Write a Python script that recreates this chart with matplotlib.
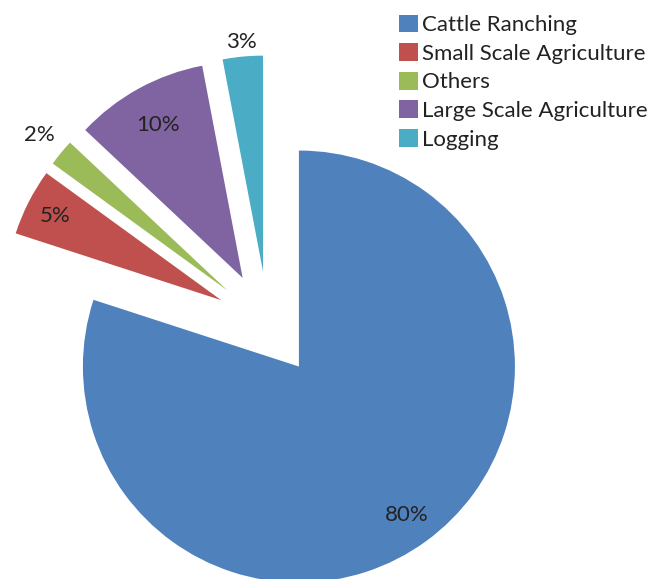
import matplotlib
matplotlib.use("Agg")
import matplotlib.pyplot as plt
import numpy as np

# data
labels = ["Cattle Ranching", "Small Scale Agriculture", "Others",
          "Large Scale Agriculture", "Logging"]
shares = [80, 5, 2, 10, 3]
colors = ["#4F81BD", "#C0504D", "#9BBB59", "#8064A2", "#4BACC6"]

plt.rcParams['font.family'] = ['Lato', 'DejaVu Sans']

W, H = 656, 579
fig = plt.figure(figsize=(W / 100, H / 100), dpi=100)
ax = fig.add_axes([0, 0, 1, 1])

# pie in pixel coords (y up); explode is in data units here
radius = 216
wedges, _ = ax.pie(shares, colors=colors, startangle=90, counterclock=False,
                   explode=[52.6] * 5, radius=radius, center=(268, H - 324),
                   wedgeprops=dict(linewidth=0))
ax.set_xlim(0, W)
ax.set_ylim(0, H)
ax.set_aspect('equal')
ax.axis('off')

# where each percent label sits, as fraction of radius from the slice tip
label_pos = [0.85, 0.86, 1.13, 0.81, 1.07]
for w, s, f in zip(wedges, shares, label_pos):
    mid = np.deg2rad((w.theta1 + w.theta2) / 2)
    cx, cy = w.center
    ax.text(cx + f * w.r * np.cos(mid), cy + f * w.r * np.sin(mid), f"{s}%",
            ha='center', va='center', fontsize=16, color='#222222')

leg = ax.legend(wedges, labels, loc='upper left',
                bbox_to_anchor=(381 / W, 1 + 3 / H), frameon=False,
                fontsize=16, handlelength=0.85, handleheight=0.85,
                handletextpad=0.2, labelspacing=0.36, borderpad=0.3)
for t in leg.get_texts():
    t.set_color('#222222')

fig.savefig("out.png", dpi=100)
